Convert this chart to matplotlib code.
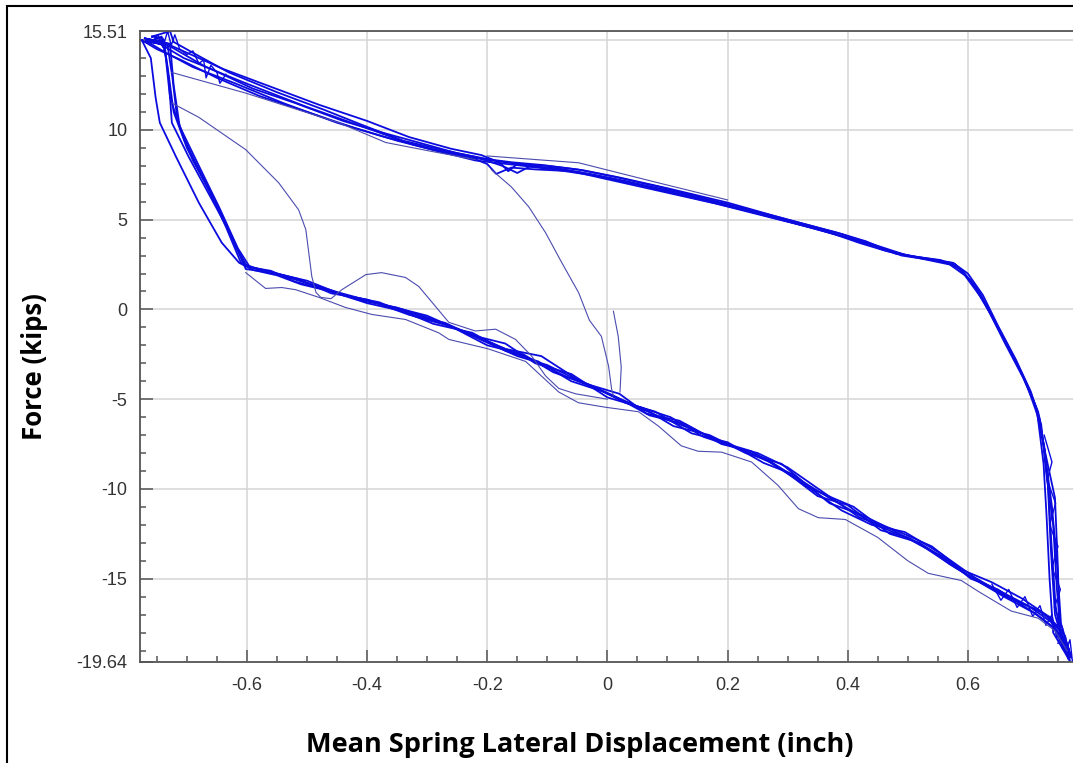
import matplotlib
matplotlib.use("Agg")
import matplotlib.pyplot as plt
from matplotlib.patches import Rectangle
from matplotlib.ticker import MultipleLocator

# hysteresis cycles, (displacement inch, force kips)
cycle1 = [(-0.760, 15.0), (-0.725, 14.6), (-0.668, 13.5), (-0.602, 12.6), (-0.502, 11.3), (-0.392, 10.0),
          (-0.326, 9.2), (-0.269, 8.7), (-0.214, 8.4), (-0.160, 8.15), (-0.103, 7.9), (-0.048, 7.65),
          (0.007, 7.3), (0.085, 6.7), (0.200, 5.8), (0.300, 4.9), (0.400, 4.0), (0.450, 3.45), (0.505, 2.95),
          (0.562, 2.65), (0.584, 2.35), (0.617, 1.1), (0.645, -0.7), (0.672, -2.4), (0.700, -4.3),
          (0.717, -5.7), (0.728, -7.9), (0.733, -9.6), (0.738, -13.3), (0.745, -17.0), (0.765, -19.3),
          (0.761, -18.5), (0.738, -17.4), (0.700, -16.5), (0.645, -15.55), (0.600, -14.8), (0.562, -13.9),
          (0.505, -12.8), (0.450, -12.05), (0.372, -10.55), (0.318, -9.45), (0.263, -8.3), (0.206, -7.6),
          (0.151, -6.8), (0.096, -6.1), (0.040, -5.3), (-0.015, -4.45), (-0.070, -3.72), (-0.126, -2.78),
          (-0.181, -2.05), (-0.236, -1.28), (-0.281, -0.7), (-0.347, 0.0), (-0.392, 0.44), (-0.447, 0.94),
          (-0.502, 1.5), (-0.535, 1.83), (-0.559, 2.05), (-0.602, 2.25), (-0.625, 4.06), (-0.658, 6.1),
          (-0.697, 8.5), (-0.725, 10.4), (-0.730, 12.8), (-0.738, 15.0), (-0.760, 15.0)]

cycle2 = [(-0.770, 15.1), (-0.740, 14.9), (-0.700, 14.3), (-0.640, 13.4), (-0.560, 12.4), (-0.480, 11.4),
          (-0.400, 10.5), (-0.330, 9.6), (-0.260, 8.95), (-0.210, 8.6), (-0.180, 8.2), (-0.165, 7.7),
          (-0.150, 8.1), (-0.100, 8.0), (-0.040, 7.75), (0.020, 7.35), (0.100, 6.75), (0.200, 5.95),
          (0.300, 5.0), (0.380, 4.3), (0.430, 3.8), (0.480, 3.1), (0.540, 2.8), (0.575, 2.6), (0.600, 2.0),
          (0.625, 0.8), (0.650, -0.9), (0.680, -2.8), (0.705, -4.6), (0.722, -6.4), (0.730, -9.0),
          (0.742, -12.0), (0.748, -15.5), (0.755, -18.2), (0.768, -19.5), (0.755, -18.0), (0.730, -17.0),
          (0.690, -16.1), (0.640, -15.2), (0.590, -14.5), (0.540, -13.2), (0.480, -12.3), (0.420, -11.6),
          (0.360, -10.2), (0.300, -8.8), (0.250, -8.0), (0.190, -7.5), (0.130, -6.4), (0.070, -5.9),
          (0.010, -4.8), (-0.050, -3.9), (-0.110, -2.6), (-0.170, -2.2), (-0.220, -1.45), (-0.290, -0.55),
          (-0.350, 0.1), (-0.410, 0.5), (-0.470, 1.1), (-0.520, 1.55), (-0.560, 2.15), (-0.595, 2.35),
          (-0.615, 3.4), (-0.645, 5.6), (-0.680, 8.0), (-0.712, 10.2), (-0.722, 12.5), (-0.728, 14.8),
          (-0.770, 15.1)]

cycle3 = [(-0.765, 14.9), (-0.735, 14.3), (-0.690, 13.5), (-0.620, 12.6), (-0.540, 11.5), (-0.450, 10.4),
          (-0.370, 9.6), (-0.300, 9.0), (-0.230, 8.5), (-0.200, 8.1), (-0.185, 7.55), (-0.160, 7.9),
          (-0.120, 7.8), (-0.060, 7.7), (0.000, 7.25), (0.080, 6.65), (0.180, 5.9), (0.280, 5.05),
          (0.360, 4.4), (0.420, 3.7), (0.470, 3.2), (0.520, 2.85), (0.570, 2.5), (0.595, 1.9), (0.630, 0.3),
          (0.660, -1.6), (0.690, -3.6), (0.712, -5.3), (0.725, -7.4), (0.745, -10.5), (0.750, -14.5),
          (0.752, -17.6), (0.762, -19.0), (0.758, -18.8), (0.745, -17.8), (0.710, -16.9), (0.660, -16.0),
          (0.615, -15.1), (0.570, -14.2), (0.520, -13.0), (0.470, -12.5), (0.410, -11.0), (0.340, -10.0),
          (0.290, -8.6), (0.230, -8.0), (0.170, -7.0), (0.110, -6.5), (0.060, -5.5), (0.000, -4.9),
          (-0.060, -3.6), (-0.120, -3.0), (-0.170, -1.9), (-0.230, -1.4), (-0.300, -0.35), (-0.370, 0.25),
          (-0.430, 0.7), (-0.490, 1.35), (-0.540, 1.9), (-0.580, 2.2), (-0.610, 2.6), (-0.635, 4.6),
          (-0.668, 7.0), (-0.705, 9.5), (-0.728, 11.8), (-0.735, 14.0), (-0.742, 15.2), (-0.765, 14.9)]

cycle4 = [(-0.775, 15.0), (-0.750, 14.5), (-0.710, 13.9), (-0.650, 12.9), (-0.580, 11.9), (-0.500, 11.0),
          (-0.420, 10.1), (-0.350, 9.4), (-0.280, 8.8), (-0.220, 8.3), (-0.140, 8.0), (-0.080, 7.75),
          (-0.020, 7.45), (0.050, 6.95), (0.150, 6.15), (0.250, 5.35), (0.350, 4.45), (0.440, 3.6),
          (0.490, 3.0), (0.550, 2.7), (0.580, 2.45), (0.610, 1.4), (0.640, -0.4), (0.668, -2.1),
          (0.697, -4.1), (0.716, -5.9), (0.726, -8.6), (0.731, -11.5), (0.736, -15.0), (0.742, -18.0),
          (0.770, -19.6), (0.762, -18.2), (0.735, -17.1), (0.705, -16.6), (0.655, -15.8), (0.610, -14.9),
          (0.555, -13.6), (0.495, -12.4), (0.440, -12.0), (0.390, -11.2), (0.330, -9.8), (0.270, -8.5),
          (0.215, -7.7), (0.160, -7.1), (0.105, -6.0), (0.050, -5.4), (-0.005, -4.6), (-0.060, -4.0),
          (-0.115, -2.9), (-0.170, -2.3), (-0.225, -1.3), (-0.290, -0.8), (-0.340, -0.1), (-0.400, 0.35),
          (-0.460, 1.0), (-0.510, 1.4), (-0.550, 1.9), (-0.590, 2.2), (-0.613, 2.6), (-0.642, 3.72),
          (-0.680, 5.94), (-0.718, 8.5), (-0.745, 10.4), (-0.752, 11.8), (-0.760, 14.0), (-0.775, 15.0)]

cycle5 = [(-0.758, 15.2), (-0.728, 15.5), (-0.722, 14.9), (-0.690, 14.3), (-0.630, 13.2), (-0.550, 12.1),
          (-0.470, 11.1), (-0.410, 10.3), (-0.340, 9.4), (-0.270, 8.85), (-0.220, 8.5), (-0.175, 8.0),
          (-0.150, 7.6), (-0.130, 7.95), (-0.090, 7.9), (-0.030, 7.55), (0.030, 7.15), (0.120, 6.5),
          (0.220, 5.65), (0.320, 4.75), (0.410, 3.9), (0.460, 3.3), (0.510, 2.95), (0.555, 2.75),
          (0.590, 2.2), (0.620, 0.9), (0.648, -0.9), (0.676, -2.6), (0.703, -4.5), (0.719, -6.0),
          (0.729, -8.2), (0.740, -11.0), (0.748, -14.0), (0.755, -17.5), (0.772, -19.4), (0.766, -18.7),
          (0.748, -17.6), (0.720, -16.8), (0.670, -16.1), (0.625, -15.3), (0.580, -14.4), (0.530, -13.3),
          (0.470, -12.2), (0.420, -11.4), (0.370, -10.8), (0.310, -9.2), (0.260, -8.55), (0.200, -7.4),
          (0.140, -6.9), (0.080, -5.7), (0.030, -5.2), (-0.030, -4.2), (-0.090, -3.5), (-0.140, -2.5),
          (-0.200, -2.0), (-0.260, -0.95), (-0.320, -0.4), (-0.380, 0.4), (-0.440, 0.8), (-0.500, 1.6),
          (-0.545, 1.95), (-0.585, 2.3), (-0.605, 2.5), (-0.630, 4.4), (-0.663, 6.6), (-0.700, 9.0),
          (-0.722, 11.0), (-0.732, 13.5), (-0.740, 15.1), (-0.758, 15.2)]

cycle6 = [(-0.768, 14.95), (-0.745, 14.8), (-0.705, 14.0), (-0.660, 13.4), (-0.590, 12.3), (-0.520, 11.5),
          (-0.440, 10.5), (-0.380, 9.9), (-0.320, 9.35), (-0.250, 8.7), (-0.195, 8.35), (-0.160, 8.2),
          (-0.110, 8.05), (-0.050, 7.8), (0.010, 7.4), (0.090, 6.8), (0.190, 5.95), (0.290, 5.1),
          (0.390, 4.2), (0.440, 3.65), (0.495, 3.05), (0.545, 2.75), (0.578, 2.55), (0.605, 1.6),
          (0.635, -0.1), (0.662, -1.9), (0.692, -3.8), (0.714, -5.5), (0.727, -7.6), (0.734, -10.0),
          (0.739, -13.0), (0.746, -16.5), (0.758, -18.9), (0.764, -18.9), (0.742, -17.7), (0.715, -17.0),
          (0.650, -15.6), (0.605, -15.0), (0.560, -13.8), (0.500, -12.7), (0.455, -12.3), (0.400, -10.9),
          (0.350, -10.4), (0.295, -9.0), (0.240, -7.9), (0.180, -7.3), (0.120, -6.2), (0.065, -5.8),
          (0.020, -4.7), (-0.040, -4.1), (-0.100, -3.1), (-0.150, -2.6), (-0.210, -1.7), (-0.270, -0.75),
          (-0.330, -0.3), (-0.400, 0.55), (-0.460, 0.9), (-0.515, 1.7), (-0.555, 2.05), (-0.600, 2.4),
          (-0.620, 3.6), (-0.650, 5.9), (-0.690, 8.3), (-0.716, 10.6), (-0.724, 12.9), (-0.732, 14.7),
          (-0.768, 14.95)]

# jagged bits where the cycles pile up
noise_top_left = [(-0.778, 15.0), (-0.760, 14.8), (-0.748, 15.3), (-0.740, 14.6), (-0.732, 15.5),
                  (-0.726, 14.7), (-0.720, 15.3), (-0.712, 14.5), (-0.700, 14.2), (-0.690, 14.4),
                  (-0.680, 13.7), (-0.672, 13.9), (-0.668, 12.9), (-0.660, 13.6), (-0.650, 13.2),
                  (-0.645, 12.6), (-0.635, 13.1)]
noise_vertical = [(0.727, -7.0), (0.740, -8.5), (0.732, -9.5), (0.746, -10.8), (0.736, -12.0), (0.750, -13.2),
                  (0.740, -14.4), (0.754, -15.6), (0.744, -16.6), (0.758, -17.8), (0.750, -18.6)]
noise_bottom_right = [(0.640, -15.3), (0.655, -16.2), (0.668, -15.6), (0.682, -16.6), (0.695, -16.0),
                      (0.708, -17.1), (0.720, -16.5), (0.730, -17.6), (0.740, -17.0), (0.748, -18.3),
                      (0.756, -17.8), (0.762, -19.1), (0.770, -18.4), (0.774, -19.6)]

# single traces that stand apart from the main bands
start_trace = [(0.010, -0.1), (0.018, -1.5), (0.023, -3.2), (0.021, -4.6)]

lower_trace = [(-0.602, 2.05), (-0.569, 1.17), (-0.542, 1.22), (-0.519, 1.10), (-0.480, 0.67), (-0.436, 0.11),
               (-0.392, -0.28), (-0.336, -0.56), (-0.281, -1.30), (-0.264, -1.67), (-0.198, -2.2),
               (-0.136, -2.9), (-0.081, -4.6), (-0.048, -5.2), (-0.003, -5.45), (0.052, -5.7), (0.085, -6.5),
               (0.123, -7.6), (0.151, -7.9), (0.190, -7.95), (0.240, -8.5), (0.284, -9.8), (0.318, -11.1),
               (0.351, -11.6), (0.396, -11.7), (0.450, -12.7), (0.500, -14.0), (0.534, -14.7), (0.589, -15.1),
               (0.617, -15.7), (0.672, -16.8), (0.717, -17.2), (0.745, -17.9), (0.765, -19.0)]

hump_trace = [(-0.725, 11.5), (-0.680, 10.7), (-0.602, 8.9), (-0.547, 7.05), (-0.514, 5.55), (-0.502, 4.45),
              (-0.492, 1.83), (-0.485, 0.94), (-0.477, 0.67), (-0.460, 0.6), (-0.442, 1.1), (-0.402, 1.94),
              (-0.376, 2.05), (-0.336, 1.78), (-0.314, 1.28), (-0.264, -0.72), (-0.220, -1.2), (-0.186, -1.1),
              (-0.153, -1.67), (-0.126, -2.6), (-0.103, -3.7), (-0.081, -4.4), (-0.053, -4.7), (0.000, -5.0)]

drop_trace = [(-0.193, 7.78), (-0.160, 6.83), (-0.131, 5.72), (-0.103, 4.28), (-0.076, 2.61), (-0.048, 0.94),
              (-0.030, -0.6), (-0.010, -1.5), (0.002, -3.17), (0.007, -4.44), (0.010, -4.8)]

upper_low_trace = [(-0.725, 13.2), (-0.602, 12.05), (-0.447, 10.4), (-0.369, 9.3), (-0.300, 8.85),
                   (-0.220, 8.35)]
upper_high_trace = [(-0.200, 8.55), (-0.120, 8.35), (-0.048, 8.17), (0.085, 7.05), (0.200, 6.1)]

x_major = [-0.6, -0.4, -0.2, 0.0, 0.2, 0.4, 0.6]
x_labels = ["-0.6", "-0.4", "-0.2", "0", "0.2", "0.4", "0.6"]
y_major = [-19.64, -15, -10, -5, 0, 5, 10, 15, 15.51]
y_labels = ["-19.64", "-15", "-10", "-5", "0", "5", "10", "", "15.51"]

W, H = 1073, 763
fig = plt.figure(figsize=(W / 100, H / 100), dpi=100)
ax = fig.add_axes([140 / W, 1 - 662 / H, (W - 140) / W, (662 - 31) / H])

band_color = "#0b0be0"
for cyc in [cycle1, cycle2, cycle3, cycle4, cycle5, cycle6]:
    xs, ys = zip(*cyc)
    ax.plot(xs, ys, color=band_color, lw=1.3)

for tr in [noise_top_left, noise_vertical, noise_bottom_right]:
    xs, ys = zip(*tr)
    ax.plot(xs, ys, color=band_color, lw=1.0)

for tr in [start_trace, lower_trace, hump_trace, drop_trace, upper_low_trace, upper_high_trace]:
    xs, ys = zip(*tr)
    ax.plot(xs, ys, color="#4b4bb0", lw=0.8)

ax.set_xlim(-0.778, 0.775)
ax.set_ylim(-19.64, 15.51)

ax.set_xticks(x_major)
ax.set_xticklabels(x_labels)
ax.set_yticks(y_major)
ax.set_yticklabels(y_labels)
ax.xaxis.set_minor_locator(MultipleLocator(0.05))
ax.yaxis.set_minor_locator(MultipleLocator(1))

ax.grid(True, which="major", color="#d4d4d4", lw=1.1)
ax.set_axisbelow(True)

ax.tick_params(which="both", direction="in", colors="#555555", labelcolor="#333333",
               labelsize=13, width=1.1)
ax.tick_params(which="major", length=9)
ax.tick_params(which="minor", length=4.5)
ax.tick_params(axis="x", pad=11)
ax.tick_params(axis="y", pad=9)
for lab in ax.get_xticklabels() + ax.get_yticklabels():
    lab.set_family("Liberation Sans")

for side in ["left", "bottom", "top"]:
    ax.spines[side].set_color("#555555")
    ax.spines[side].set_linewidth(1.3)
ax.spines["right"].set_visible(False)

fig.text(580 / W, 1 - 745 / H, "Mean Spring Lateral Displacement (inch)", ha="center", va="center",
         fontsize=19.5, fontweight="bold", family="Open Sans")
fig.text(35 / W, 1 - 367 / H, "Force (kips)", ha="center", va="center", rotation=90,
         fontsize=18.5, fontweight="bold", family="Open Sans")

# outer frame of the screenshot
fig.patches.append(Rectangle((7 / W, -0.1), 2.0, 1.1 - 6 / H, transform=fig.transFigure,
                             fill=False, edgecolor="black", lw=1.5))

fig.savefig("out.png", dpi=100)
